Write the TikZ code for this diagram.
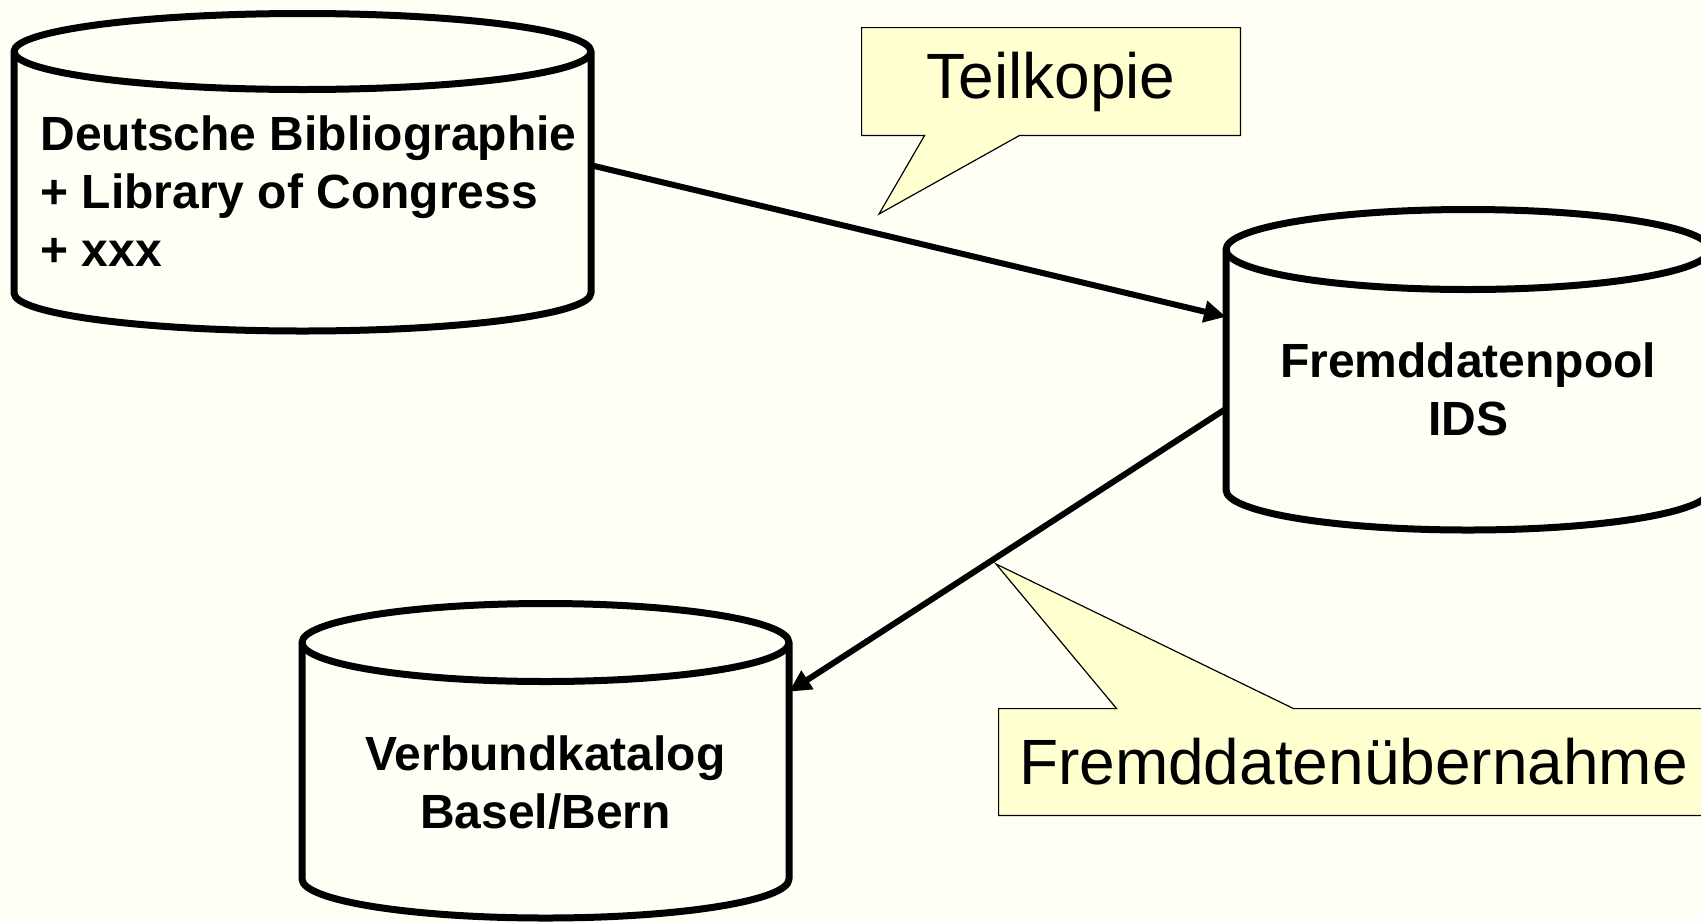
\documentclass[tikz,border=0pt]{standalone}
\usepackage{fontspec}
\setmainfont{Liberation Sans}
\usetikzlibrary{arrows.meta,calc}
\definecolor{bgc}{RGB}{255,255,246}
\definecolor{callc}{RGB}{255,255,208}
\tikzset{
  cylline/.style={line width=3.5pt, line join=round},
  conn/.style={line width=3pt, -{Triangle[length=11pt,width=10.5pt]}},
  body/.style={inner sep=0pt, outer sep=0pt, rectangle},
  cyltext/.style={inner sep=0pt, font=\bfseries\fontsize{24}{29}\selectfont},
  calltext/.style={inner sep=0pt, font=\fontsize{32}{38}\selectfont},
  callout/.style={fill=callc, draw=black, line width=0.6pt, line join=miter}
}
\newcommand{\cylinderdraw}[3]{%
  \filldraw[cylline, fill=bgc] (#1.north west) arc[start angle=180, end angle=0, x radius=#2, y radius=#3]
    -- (#1.south east) arc[start angle=0, end angle=-180, x radius=#2, y radius=#3] -- cycle;
  \draw[cylline] (#1.north west) arc[start angle=180, end angle=360, x radius=#2, y radius=#3];
}
\begin{document}
\begin{tikzpicture}[x=0.5pt,y=-0.5pt]
\fill[bgc] (0,0) rectangle (1701,922);
\useasboundingbox (0,0) rectangle (1701,922);
\clip (0,0) rectangle (1701,922);

% cylinder bodies
\node[body, minimum width=288.5pt, minimum height=120.75pt] (c1) at (302.5,172.25) {};
\node[body, minimum width=242pt, minimum height=120.25pt] (c2) at (1468,369.75) {};
\node[body, minimum width=243.5pt, minimum height=118.25pt] (c3) at (545.5,760.75) {};

\cylinderdraw{c1}{144.25pt}{19pt}
\cylinderdraw{c2}{121pt}{20pt}
\cylinderdraw{c3}{121.75pt}{19.5pt}

\node[cyltext, anchor=west, align=left] (t1) at (40,191.5) {Deutsche Bibliographie\\+ Library of Congress\\+ xxx};
\node[cyltext, align=center] (t2) at (1468,389) {Fremddatenpool\\IDS};
\node[cyltext, align=center] (t3) at (545.5,782.5) {Verbundkatalog\\Basel/Bern};

% connectors
\draw[conn] ($(c1.east)+(0,-7)$) -- ($(c2.west)+(0,-53)$);
\draw[conn] ($(c2.west)+(0,39)$) -- ($(c3.east)+(0,-69)$);

% callout Teilkopie
\node[calltext, minimum width=189pt, minimum height=53.5pt] (k1) at (1051,81.5) {};
\coordinate (k1tip) at (879,214);
\draw[callout] (k1.north west) -- (k1.north east) -- (k1.south east)
  -- ($(k1.south west)+(158,0)$) -- (k1tip) -- ($(k1.south west)+(63,0)$) -- (k1.south west) -- cycle;
\node[calltext] at (k1.center) {Teilkopie};

% callout Fremddatenuebernahme
\node[calltext, minimum width=354.5pt, minimum height=53pt] (k2) at (1353.5,762) {};
\coordinate (k2tip) at (996,564);
\draw[callout] (k2.south west) -- (k2.north west) -- ($(k2.north west)+(118,0)$) -- (k2tip)
  -- ($(k2.north west)+(295,0)$) -- (k2.north east) -- (k2.south east) -- cycle;
\node[calltext] at (k2.center) {Fremddatenübernahme};
\end{tikzpicture}
\end{document}
